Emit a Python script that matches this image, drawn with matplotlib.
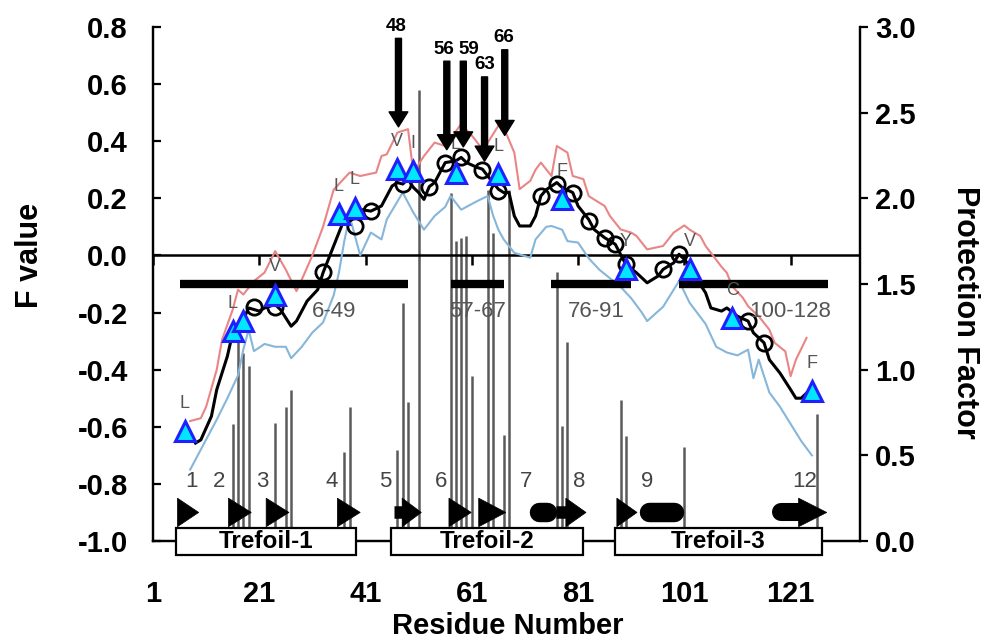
import numpy as np
import matplotlib.pyplot as plt
from matplotlib.patches import Rectangle, Polygon
from matplotlib.ticker import FormatStrFormatter

plt.rcParams['font.family'] = ['Liberation Sans', 'DejaVu Sans']
plt.rcParams['axes.unicode_minus'] = False

# F value curve (black)
f_res = [9, 10, 12, 13, 15, 16, 18, 19, 21, 22, 24, 25, 27, 28, 30, 32, 33, 34, 35, 36,
         37, 39, 40, 42, 44, 45, 46, 47, 48, 49, 50, 51, 52, 53, 54, 55, 56, 58, 59, 60,
         62, 63, 64, 66, 67, 68, 69, 70, 72, 73, 74, 75, 77, 78, 80, 81, 83, 84, 86, 88,
         90, 92, 94, 96, 97, 99, 100, 101, 102, 103, 105, 106, 108, 109, 111, 113, 114,
         116, 117, 119, 121, 122, 123, 124]
f_val = [-0.657, -0.646, -0.563, -0.47, -0.353, -0.271, -0.225, -0.184, -0.195, -0.184,
         -0.172, -0.19, -0.248, -0.23, -0.16, -0.12, -0.061, -0.014, 0.033, 0.08,
         0.126, 0.13, 0.161, 0.155, 0.173, 0.208, 0.243, 0.255, 0.25, 0.267, 0.238, 0.22,
         0.196, 0.241, 0.255, 0.29, 0.325, 0.331, 0.343, 0.325, 0.308, 0.302, 0.278, 0.232,
         0.22, 0.22, 0.138, 0.103, 0.103, 0.138, 0.208, 0.23, 0.255, 0.238, 0.22, 0.173,
         0.126, 0.091, 0.062, 0.039, -0.032, -0.061, -0.096, -0.073, -0.049, -0.026, 0.004,
         -0.014, -0.037, -0.073, -0.131, -0.184, -0.195, -0.184, -0.213, -0.23, -0.271,
         -0.306, -0.365, -0.412, -0.47, -0.5, -0.5, -0.482]

# upper bound (red)
up_res = [8, 10, 11, 13, 14, 16, 17, 18, 20, 22, 24, 26, 28, 29, 31, 33, 35, 38, 40, 43,
          44, 45, 47, 49, 50, 52, 54, 56, 59, 61, 63, 64, 66, 67, 69, 70, 72, 73, 74, 76,
          77, 79, 80, 82, 83, 84, 86, 87, 89, 91, 92, 94, 97, 99, 101, 102, 104, 105, 106,
          108, 109, 110, 112, 113, 115, 117, 118, 120, 121, 122, 124]
up_val = [-0.58, -0.57, -0.53, -0.40, -0.295, -0.19, -0.12, -0.137, -0.09, -0.06, 0.015,
          -0.05, -0.125, -0.085, 0.0, 0.10, 0.23, 0.29, 0.278, 0.29, 0.348, 0.354, 0.43,
          0.442, 0.29, 0.348, 0.395, 0.383, 0.46, 0.42, 0.372, 0.395, 0.454, 0.448, 0.36,
          0.232, 0.261, 0.30, 0.325, 0.278, 0.383, 0.36, 0.278, 0.267, 0.208, 0.196, 0.173,
          0.138, 0.091, 0.08, 0.068, 0.021, 0.033, 0.08, 0.105, 0.09, 0.068, 0.033, 0.009,
          -0.04, -0.061, -0.108, -0.148, -0.178, -0.213, -0.26, -0.306, -0.336, -0.423,
          -0.365, -0.289]

# lower bound (blue)
lo_res = [8, 10, 13, 15, 17, 18, 19, 20, 22, 24, 26, 27, 29, 31, 33, 35, 36, 37, 38, 40,
          42, 44, 45, 48, 50, 52, 54, 56, 57, 59, 62, 64, 65, 66, 67, 69, 72, 73, 75, 76,
          78, 79, 81, 83, 85, 87, 89, 91, 93, 94, 97, 100, 102, 105, 107, 109, 111, 113,
          114, 115, 117, 119, 121, 123, 125]
lo_val = [-0.75, -0.68, -0.575, -0.5, -0.42, -0.33, -0.26, -0.335, -0.31, -0.32, -0.32,
          -0.36, -0.32, -0.27, -0.235, -0.14, -0.06, 0.05, 0.138, 0.0, 0.08, 0.056, 0.126,
          0.22, 0.15, 0.09, 0.138, 0.17, 0.208, 0.16, 0.19, 0.208, 0.14, 0.09, 0.056, 0.009,
          -0.008, 0.056, 0.1, 0.103, 0.09, 0.05, 0.045, -0.01, -0.05, -0.08, -0.11, -0.15,
          -0.2, -0.23, -0.18, -0.09, -0.166, -0.24, -0.32, -0.34, -0.35, -0.33, -0.43,
          -0.365, -0.48, -0.53, -0.59, -0.65, -0.70]

# open circles
circ_res = [20, 24, 33, 39, 42, 48, 53, 56, 59, 63, 66, 74, 77, 80, 83, 86, 88, 90, 97,
            100, 113, 116]
circ_val = [-0.18, -0.18, -0.058, 0.103, 0.155, 0.249, 0.241, 0.325, 0.343, 0.30, 0.225,
            0.208, 0.25, 0.22, 0.12, 0.06, 0.039, -0.03, -0.049, 0.004, -0.23, -0.306]

# triangles with residue letters
tri_res = [7, 16, 18, 24, 36, 39, 47, 50, 58, 66, 78, 90, 102, 110, 125]
tri_val = [-0.616, -0.265, -0.23, -0.137, 0.144, 0.167, 0.302, 0.296, 0.29, 0.284, 0.196,
           -0.049, -0.049, -0.219, -0.476]
tri_aa = ['L', 'L', '', 'V', 'L', 'L', 'V', 'I', 'L', 'L', 'F', 'Y', 'V', 'C', 'F']

# protection factors (right axis)
pf_res = [16, 17, 18, 19, 24, 26, 27, 37, 38, 47, 48, 49, 51, 57, 58, 59, 60, 61, 64, 65,
          67, 68, 77, 78, 79, 89, 90, 101, 126]
pf_val = [0.68, 1.16, 1.10, 1.02, 0.69, 0.78, 0.88, 0.52, 0.78, 0.53, 1.39, 0.81, 2.63,
          2.03, 1.75, 1.77, 1.78, 0.96, 2.05, 1.80, 0.62, 2.05, 1.57, 0.67, 1.16, 0.82,
          0.61, 0.55, 0.74]

# peptide segments
seg_start = [6, 57, 76, 100]
seg_end = [49, 67, 91, 128]
seg_label = ['6-49', '57-67', '76-91', '100-128']
seg_label_x = [35, 62, 84.5, 121]

# marked residues (arrows)
arrow_label = ['48', '56', '59', '63', '66']
arrow_x = [47.2, 56.3, 59.4, 63.4, 67.2]
arrow_label_x = [46.8, 55.7, 60.4, 63.5, 67.0]
arrow_tip = [0.45, 0.37, 0.38, 0.33, 0.42]
arrow_tail = [0.76, 0.68, 0.68, 0.625, 0.72]

# secondary structure
strand_start = [5.6, 15.2, 22.3, 35.7, 46.4, 56.7, 62.3, 76.8, 88.3, 117.6]
strand_head = [5.6, 15.2, 22.3, 35.7, 47.9, 56.7, 62.3, 78.7, 88.3, 122.5]
strand_end = [9.6, 19.5, 26.6, 40.0, 51.5, 60.9, 67.4, 82.5, 92.1, 127.8]
helix_start = [71.8, 92.5]
helix_end = [77.0, 100.9]
ss_num = ['1', '2', '3', '4', '5', '6', '7', '8', '9', '12']
ss_num_x = [8.2, 13.5, 21.6, 34.7, 44.7, 55.2, 71.2, 81.2, 94, 123.6]

trefoil = ['Trefoil-1', 'Trefoil-2', 'Trefoil-3']
tref_start = [5.3, 45.8, 88.0]
tref_end = [39.2, 82.0, 126.9]

xt = [1, 21, 41, 61, 81, 101, 121]
yt_left = [-1.0, -0.8, -0.6, -0.4, -0.2, 0.0, 0.2, 0.4, 0.6, 0.8]
yt_right = [0.0, 0.5, 1.0, 1.5, 2.0, 2.5, 3.0]

fig = plt.figure(figsize=(9.87, 6.41), dpi=100)
ax = fig.add_axes([0.155, 0.156, 0.716, 0.802])
ax2 = ax.twinx()
ax.set_zorder(ax2.get_zorder() + 1)
ax.patch.set_visible(False)

ax2.vlines(pf_res, 0, pf_val, color='#5a5a5a', lw=1.8)
ax2.set_ylim(0, 3.0)
ax2.set_yticks(yt_right)
ax2.yaxis.set_major_formatter(FormatStrFormatter('%.1f'))

ax.set_xlim(1, 134)
ax.set_ylim(-1.0, 0.8)
ax.set_yticks(yt_left)
ax.yaxis.set_major_formatter(FormatStrFormatter('%.1f'))
ax.set_xticks(xt)

for a in (ax, ax2):
    a.spines['top'].set_visible(False)
    for s in ('left', 'right', 'bottom'):
        a.spines[s].set_linewidth(1.6)
ax.tick_params(axis='y', direction='in', length=6, width=1.6, pad=18, labelsize=21)
ax2.tick_params(axis='y', direction='out', length=6, width=1.6, pad=5, labelsize=21)
ax.tick_params(axis='x', length=0, pad=28, labelsize=21)
for lab in ax.get_xticklabels() + ax.get_yticklabels() + ax2.get_yticklabels():
    lab.set_fontweight('bold')

# zero line with its ticks
ax.axhline(0, color='black', lw=1.8)
ax.plot(xt, [0] * len(xt), ls='none', marker=3, ms=7, mew=1.8, color='black')

ax.plot(up_res, up_val, color='#ea8585', lw=1.5)
ax.plot(lo_res, lo_val, color='#86b6da', lw=1.5)
ax.plot(f_res, f_val, color='black', lw=2.2)

ax.hlines([-0.1] * len(seg_start), seg_start, seg_end, color='black', lw=6)
for lx, lab in zip(seg_label_x, seg_label):
    ax.text(lx, -0.196, lab, ha='center', va='center', fontsize=16, color='#555555')

ax.plot(circ_res, circ_val, ls='none', marker='o', ms=11, mfc='none', mec='black', mew=2)
ax.plot(tri_res, tri_val, ls='none', marker='^', ms=15, mfc='#00e6ff', mec='#1f1fff', mew=2.2)
for r, v, aa in zip(tri_res, tri_val, tri_aa):
    ax.annotate(aa, (r, v), xytext=(0, 20), textcoords='offset points',
                ha='center', va='center', fontsize=13, color='#555555')

for x, lx, tip, tail, lab in zip(arrow_x, arrow_label_x, arrow_tip, arrow_tail, arrow_label):
    ax.annotate('', xy=(x, tip), xytext=(x, tail),
                arrowprops=dict(arrowstyle='simple,head_length=0.6,head_width=0.75,tail_width=0.24',
                                mutation_scale=18, fc='black', ec='black',
                                shrinkA=0, shrinkB=0), annotation_clip=False)
    ax.text(lx, tail + 0.012, lab, ha='center', va='bottom', fontsize=13.5,
            fontweight='bold', clip_on=False)

# secondary structure elements
ss_y = -0.9
for s, h, e in zip(strand_start, strand_head, strand_end):
    if h - s > 3:
        ax.plot([s + 1.5, h + 0.3], [ss_y, ss_y], color='black', lw=13,
                solid_capstyle='round')
    elif h > s:
        ax.plot([s, h + 0.3], [ss_y, ss_y], color='black', lw=9,
                solid_capstyle='butt')
    ax.add_patch(Polygon([(h, ss_y + 0.05), (e, ss_y), (h, ss_y - 0.05)],
                         closed=True, fc='black', ec='black', lw=0.5))
for s, e in zip(helix_start, helix_end):
    ax.plot([s + 1.8, e - 1.8], [ss_y, ss_y], color='black', lw=14,
            solid_capstyle='round')
for nx, n in zip(ss_num_x, ss_num):
    ax.text(nx, -0.793, n, ha='center', va='center', fontsize=16, color='#444444')

for s, e, t in zip(tref_start, tref_end, trefoil):
    ax.add_patch(Rectangle((s, -1.049), e - s, 0.095, fc='white', ec='black',
                           lw=1.6, clip_on=False, zorder=5))
    ax.text((s + e) / 2, -1.0015, t, ha='center', va='center', fontsize=17.5,
            fontweight='bold', zorder=6, clip_on=False)

fig.text(30 / 987, 1 - 255 / 641, 'F value', rotation=90, ha='center', va='center',
         fontsize=22, fontweight='bold')
fig.text(965 / 987, 1 - 312 / 641, 'Protection Factor', rotation=270, ha='center',
         va='center', fontsize=22, fontweight='bold')
fig.text(508 / 987, 1 - 626 / 641, 'Residue Number', ha='center', va='center',
         fontsize=21, fontweight='bold')

fig.savefig('out.png', dpi=100)
